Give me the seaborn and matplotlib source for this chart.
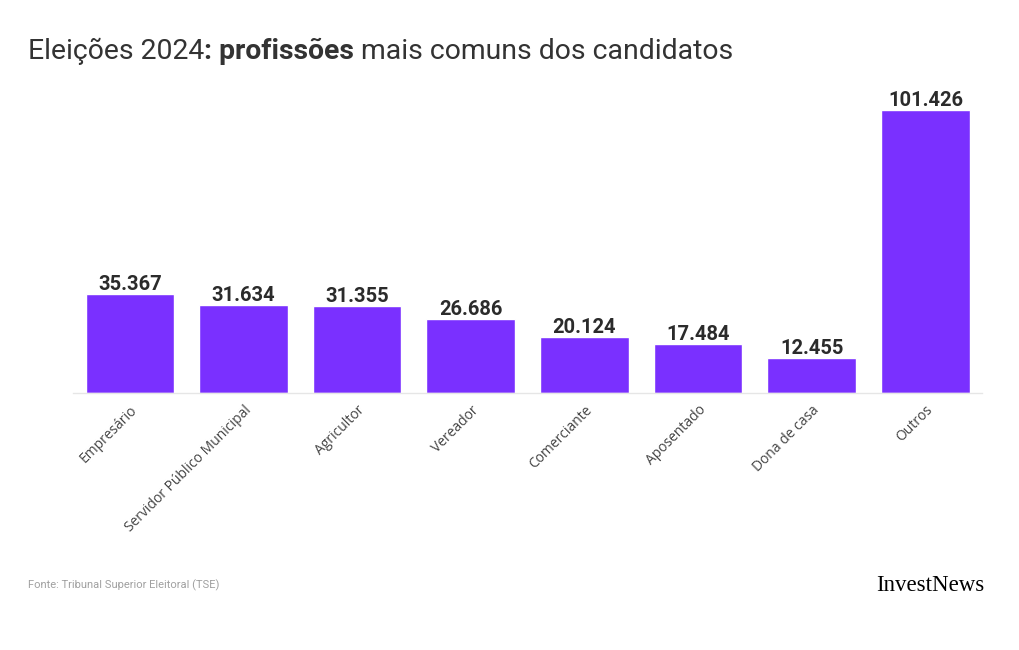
import numpy as np
import pandas as pd
import seaborn as sns
import matplotlib.pyplot as plt

# dados
profissoes = ["Empresário", "Servidor Público Municipal", "Agricultor", "Vereador",
              "Comerciante", "Aposentado", "Dona de casa", "Outros"]
candidatos = [35367, 31634, 31355, 26686, 20124, 17484, 12455, 101426]

cor_barra = "#7a30ff"

df = pd.DataFrame({"profissao": profissoes, "candidatos": candidatos})

sns.set_theme(style="white")
plt.rcParams["font.family"] = ["Roboto", "DejaVu Sans"]

fig = plt.figure(figsize=(10.2, 6.5), dpi=100)
ax = fig.add_axes([0.0716, 0.3954, 0.8914, 0.4566])

sns.barplot(data=df, x="profissao", y="candidatos", color=cor_barra, width=0.78,
            saturation=1, ax=ax)

ax.set_ylim(0, 106442)
ax.set_xlim(-0.5, len(profissoes) - 0.5)
ax.set_xlabel("")
ax.set_ylabel("")
ax.set_yticks([])
for s in ["top", "right", "left"]:
    ax.spines[s].set_visible(False)
ax.spines["bottom"].set_color("#e6e6e6")
ax.spines["bottom"].set_linewidth(1)
ax.tick_params(axis="x", length=5, color="#e6e6e6", width=1, pad=2)
plt.setp(ax.get_xticklabels(), rotation=45, ha="right", rotation_mode="anchor",
         fontsize=10, color="#444444", family=["Open Sans", "DejaVu Sans"])

# rótulos com os valores
for i, v in enumerate(candidatos):
    txt = f"{v:,}".replace(",", ".")
    ax.text(i, v, txt, ha="center", va="bottom", fontsize=14.5, fontweight="bold",
            color="#2b2b2b")

# título com parte em negrito
fig.canvas.draw()
renderer = fig.canvas.get_renderer()
x0 = 28 / 1020
y0 = 1 - 59 / 650
partes = [("Eleições 2024", "normal"), (": profissões", "bold"),
          (" mais comuns dos candidatos", "normal")]
x = x0
for texto, peso in partes:
    t = fig.text(x, y0, texto, fontsize=20.4, fontweight=peso, color="#333333",
                 ha="left", va="baseline")
    bb = t.get_window_extent(renderer=renderer)
    x = x + bb.width / fig.bbox.width

fig.text(28 / 1020, 1 - 588 / 650, "Fonte: Tribunal Superior Eleitoral (TSE)",
         fontsize=8, color="#a0a0a0", ha="left", va="baseline")
fig.text(984 / 1020, 1 - 591 / 650, "InvestNews", fontsize=16.5, color="#000000",
         family="Liberation Serif", ha="right", va="baseline")

fig.savefig("out.png", dpi=100)
